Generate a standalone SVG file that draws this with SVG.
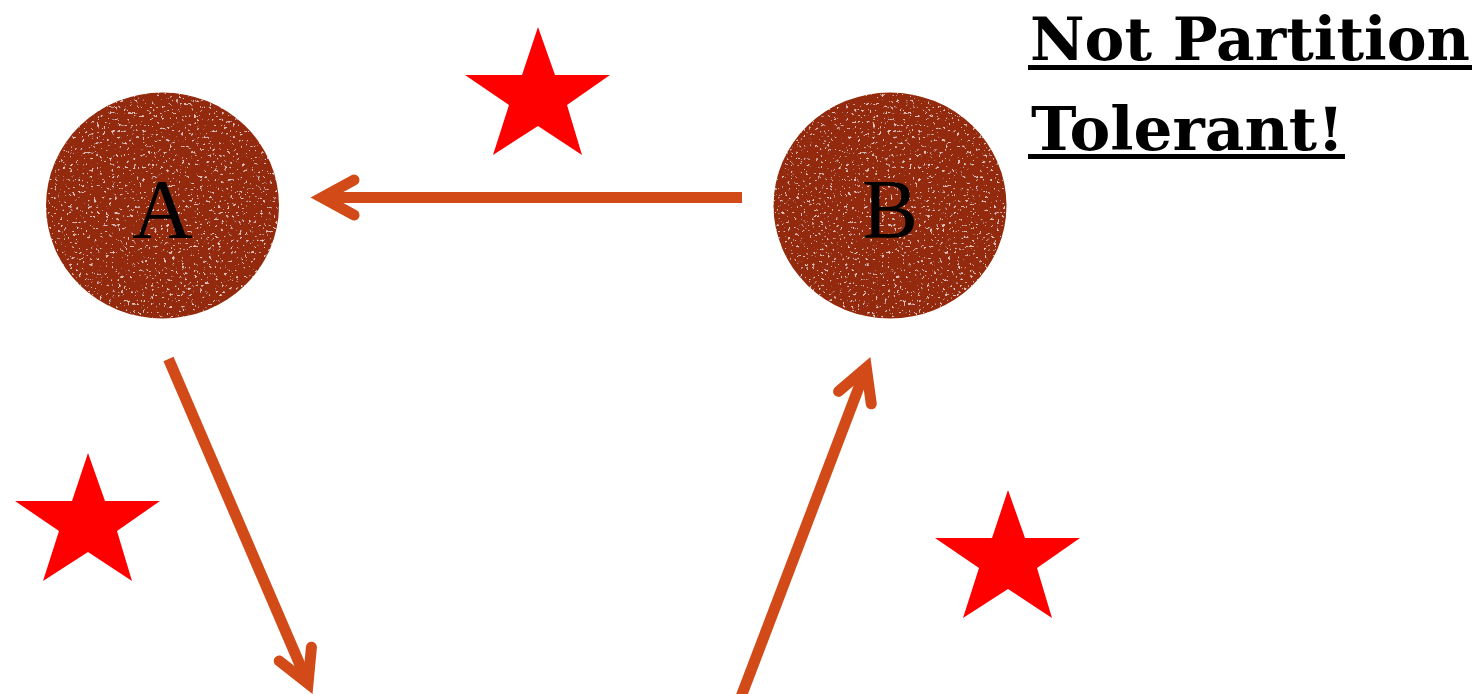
<svg xmlns="http://www.w3.org/2000/svg" width="1480" height="694" viewBox="0 0 1480 694">
  <style>
    .node { fill: #932a08; }
    .label { font-family: "Liberation Serif", "DejaVu Serif", serif; font-size: 84px; fill: #000; text-anchor: middle; }
    .title { font-family: "DejaVu Serif", "Liberation Serif", serif; font-weight: bold; font-size: 60px; fill: #000; }
    .edge { fill: none; stroke: #d24a17; stroke-width: 11; }
    .star { fill: #ff0000; }
  </style>
  <defs>
    <filter id="speckle" x="-5%" y="-5%" width="110%" height="110%">
      <feTurbulence type="fractalNoise" baseFrequency="0.33" numOctaves="3" seed="11" result="n"/>
      <feColorMatrix in="n" type="matrix" values="0 0 0 0 0.97  0 0 0 0 0.80  0 0 0 0 0.74  13 0 0 0 -8.6" result="sp"/>
      <feComposite in="sp" in2="SourceGraphic" operator="in" result="sp2"/>
      <feComponentTransfer in="sp2" result="sp3"><feFuncA type="linear" slope="0.65"/></feComponentTransfer>
      <feMerge><feMergeNode in="SourceGraphic"/><feMergeNode in="sp3"/></feMerge>
    </filter>
    <marker id="head" markerUnits="userSpaceOnUse" viewBox="-45 -30 65 60" refX="0" refY="0" markerWidth="65" markerHeight="60" orient="auto">
      <path d="M -32 -17.5 L 0 0 L -32 17.5" fill="none" stroke="#d24a17" stroke-width="11" stroke-linecap="round" stroke-linejoin="miter" stroke-miterlimit="10"/>
    </marker>
    <polygon id="starShape" points="538,27 555,75 610,75 567,105 582,155 538,126 493,155 509,105 465,75 522,75"/>
  </defs>

  <g id="stars">
    <use href="#starShape" class="star"/>
    <use href="#starShape" class="star" transform="translate(-450,426)"/>
    <use href="#starShape" class="star" transform="translate(470,463)"/>
  </g>

  <g id="node-A">
    <ellipse class="node" cx="162.5" cy="205.5" rx="116.5" ry="113" filter="url(#speckle)"/>
    <text class="label" x="162.5" y="238">A</text>
  </g>

  <g id="node-B">
    <ellipse class="node" cx="890" cy="205.5" rx="116.5" ry="113" filter="url(#speckle)"/>
    <text class="label" x="890" y="238">B</text>
  </g>

  <g id="connectors">
    <path class="edge" d="M 742 197.5 L 322 197.5" marker-end="url(#head)"/>
    <path class="edge" d="M 168.5 359 L 308 683.5" marker-end="url(#head)"/>
    <path class="edge" d="M 739.8 700 L 866.3 367.7" marker-end="url(#head)"/>
  </g>

  <g id="title">
    <text class="title" x="1030" y="60" textLength="440" lengthAdjust="spacingAndGlyphs">Not Partition</text>
    <rect x="1028" y="65" width="444" height="5" fill="#000"/>
    <text class="title" x="1031" y="150" textLength="313" lengthAdjust="spacingAndGlyphs">Tolerant!</text>
    <rect x="1028" y="154" width="317" height="5" fill="#000"/>
  </g>
</svg>
